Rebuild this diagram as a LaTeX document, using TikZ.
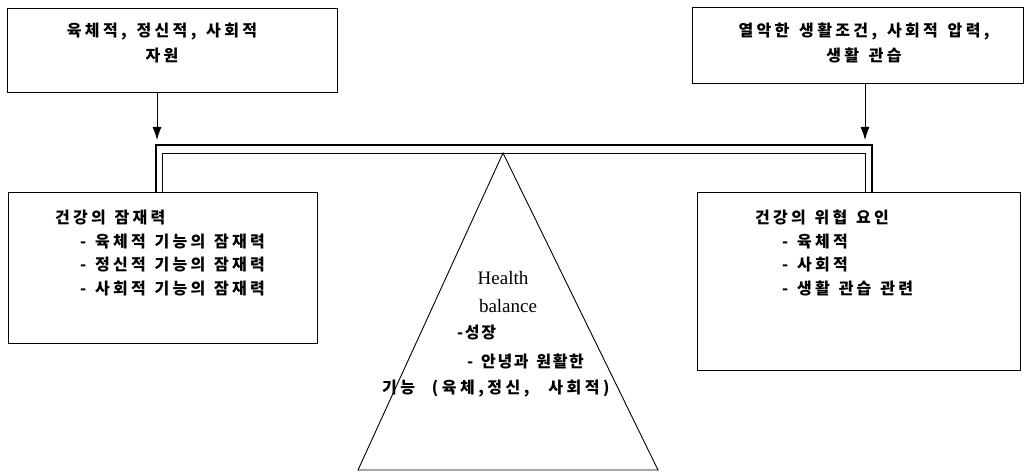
\documentclass[tikz,border=0pt]{standalone}
\usepackage{fontspec}
\usepackage{tikz}
\usetikzlibrary{arrows.meta,positioning,calc}
\setmainfont{Liberation Serif}
\newfontfamily\krtop[LetterSpace=21,WordSpace=1.4]{Noto Sans CJK KR}
\newfontfamily\krlist[LetterSpace=20,WordSpace=1.3]{Noto Sans CJK KR}
\newfontfamily\krtri[LetterSpace=10,WordSpace=1.5]{Noto Sans CJK KR}
\newfontfamily\krwide[LetterSpace=22,WordSpace=1.5]{Noto Sans CJK KR}
\tikzset{
    box/.style={rectangle, draw, line width=1.1pt, anchor=north west, inner sep=0pt},
    toptext/.style={font=\krtop\bfseries\fontsize{16}{25}\selectfont, align=center, inner sep=0pt},
    listtext/.style={font=\krlist\bfseries\fontsize{16}{23.5}\selectfont, align=left, anchor=north west, inner sep=0pt},
    tritext/.style={font=\krtri\bfseries\fontsize{16}{17}\selectfont, anchor=west, inner sep=0pt},
    entext/.style={font=\fontsize{19}{22}\selectfont, inner sep=0pt},
    beam/.style={draw, line width=0.8pt},
    arr/.style={draw, line width=0.9pt, -{Latex[length=13pt,width=9pt]}}
}
\begin{document}
\begin{tikzpicture}[x=1pt, y=-1pt]
    \useasboundingbox (0,0) rectangle (1025,473);

    % Resources and stressors
    \node [box, minimum width=330, minimum height=84] (res) at (7,8) {};
    \node [box, minimum width=331, minimum height=76] (stress) at (692,7) {};
    \node [toptext] (restext) at (162,43) {육체적, 정신적, 사회적\\자원};
    \node [toptext] (stresstext) at (864,43) {열악한 생활조건, 사회적 압력,\\생활 관습};

    % Potential and risk boxes
    \node [box, minimum width=309, minimum height=151] (pot) at (8,192) {};
    \node [box, minimum width=323, minimum height=178] (risk) at (697,192) {};
    \node [listtext] (pottext) at (55,210) {건강의 잠재력\\
        \hspace*{25pt}- 육체적 기능의 잠재력\\
        \hspace*{25pt}- 정신적 기능의 잠재력\\
        \hspace*{25pt}- 사회적 기능의 잠재력};
    \node [listtext] (risktext) at (755,210) {건강의 위협 요인\\
        \hspace*{27pt}- 육체적\\
        \hspace*{27pt}- 사회적\\
        \hspace*{27pt}- 생활 관습 관련};

    % Balance beam
    \coordinate (oL) at (156,145);
    \coordinate (oR) at (872,145);
    \coordinate (iL) at (162,153);
    \coordinate (iR) at (865,153);
    \draw [beam, line width=1.1pt] (pot.north west -| oL) -- (oL) -- (oR) -- (risk.north west -| oR);
    \draw [beam] (pot.north west -| iL) -- (iL) -- (iR) -- (risk.north west -| iR);

    % Arrows onto the beam
    \coordinate (aL) at (157,140);
    \coordinate (aR) at (865,140);
    \path [arr] (res.south west -| aL) -- (aL);
    \path [arr] (stress.south west -| aR) -- (aR);

    % Fulcrum
    \coordinate (apex) at (503,153);
    \coordinate (baseL) at (358,470);
    \coordinate (baseR) at (658,470);
    \draw [line width=0.9pt] (apex) -- (baseL) -- (baseR) -- cycle;
    \node [entext] (health) at (503,278) {Health};
    \node [entext] (balance) at (508,306) {balance};
    \node [tritext] (grow) at (457,333) {-성장};
    \node [tritext] (well) at (467,361) {- 안녕과 원활한};
    \node [tritext, font=\krwide\bfseries\fontsize{16}{17}\selectfont] (func) at (382,389) {기능\hspace{6pt} (육체,정신,\hspace{8pt} 사회적)};
\end{tikzpicture}
\end{document}
